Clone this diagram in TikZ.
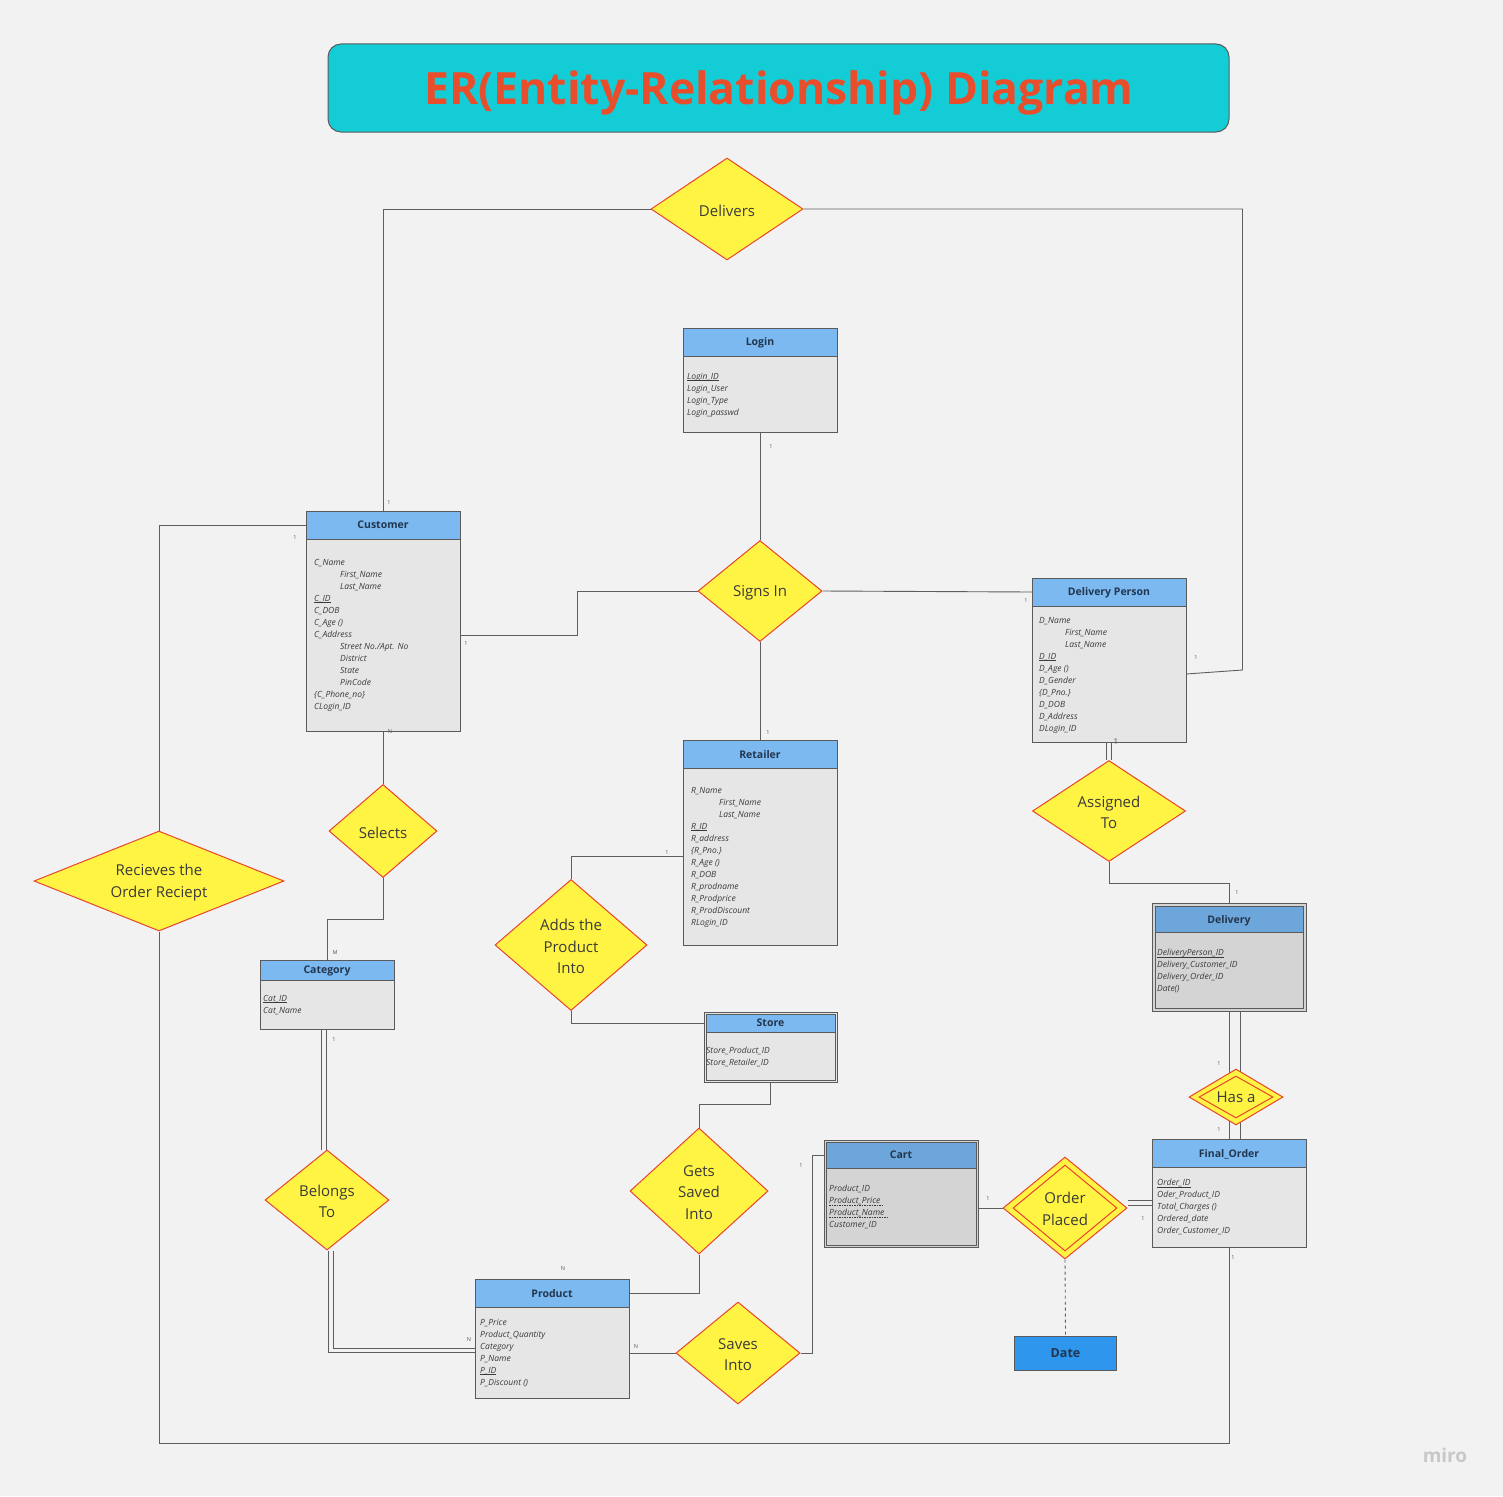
\documentclass[tikz,border=0pt]{standalone}
\usepackage{fontspec}
\setmainfont{Open Sans}
\usetikzlibrary{shapes.geometric}

\definecolor{bgc}{HTML}{F2F2F2}
\definecolor{titlefill}{HTML}{14CCD5}
\definecolor{titletext}{HTML}{E94E2C}
\definecolor{boxline}{HTML}{5A5A5A}
\definecolor{headc}{HTML}{7BB9F0}
\definecolor{headdark}{HTML}{6CA6DA}
\definecolor{bodyc}{HTML}{E6E6E6}
\definecolor{bodydark}{HTML}{D4D4D4}
\definecolor{headtext}{HTML}{22364F}
\definecolor{attrtext}{HTML}{3A3A3A}
\definecolor{relfill}{HTML}{FFF444}
\definecolor{relline}{HTML}{E8452C}
\definecolor{reltextc}{HTML}{3A3A3A}
\definecolor{cardc}{HTML}{555555}
\definecolor{linec}{HTML}{5E5E5E}
\definecolor{datefill}{HTML}{2F96EE}
\definecolor{miroc}{HTML}{C8C8C8}

\pgfdeclarelayer{bg}
\pgfdeclarelayer{lines}
\pgfsetlayers{bg,lines,main}

% key attribute: a thin rule just under the baseline
\newcommand\keyul[1]{\setbox0\hbox{#1}\rlap{\rule[-1.4pt]{\wd0}{0.45pt}}\box0}

% entity: name, x, y, width, height, header height, title
\newcommand\erentity[7]{%
  \node[entbody, minimum width=#4pt, minimum height=#5pt, anchor=north west] (#1) at (#2,#3) {};
  \node[enthead, minimum width=#4pt, minimum height=#6pt, anchor=north west] (#1-h) at (#2,#3) {#7};
}
% relationship: name, x, y, width, height, text
\newcommand\errel[6]{%
  \node[relshape, minimum width=#4pt, minimum height=#5pt] (#1) at (#2,#3) {};
  \node[reltext] (#1-t) at ([yshift=-1.5pt]#1.center) {#6};
}

\begin{document}
\begin{tikzpicture}[x=1pt,y=-1pt,
  entbody/.style={draw=boxline, line width=1pt, fill=bodyc, inner sep=0pt, outer sep=0pt},
  enthead/.style={draw=boxline, line width=1pt, fill=headc, inner sep=0pt, outer sep=0pt,
    font=\fontsize{10.5}{12}\selectfont\bfseries, text=headtext, text depth=0pt},
  attr/.style={inner sep=0pt, anchor=north west, align=left,
    font=\fontsize{8.5}{12}\selectfont\itshape, text=attrtext},
  relshape/.style={diamond, draw=relline, line width=1pt, fill=relfill, inner sep=0pt},
  reltext/.style={align=center, inner sep=0pt, font=\fontsize{15}{21.5}\selectfont, text=reltextc},
  card/.style={inner sep=0pt, font=\fontsize{5.5}{6}\selectfont, text=cardc},
  conn/.style={draw=linec, line width=0.9pt},
  dbl/.style={draw=linec, line width=0.9pt, double=bgc, double distance=3.5pt}]

\useasboundingbox (0,0) rectangle (1503,1496);
\begin{pgfonlayer}{bg}
  \fill[bgc] (0,0) rectangle (1503,1496);
\end{pgfonlayer}

% title
\node[draw=boxline, line width=1pt, fill=titlefill, rounded corners=13pt,
  minimum width=901pt, minimum height=88pt, inner sep=0pt] (title) at (778.5,88) {};
\node[inner sep=0pt, font=\fontsize{44.5}{50}\selectfont\bfseries, text=titletext]
  (title-t) at (779,93) {ER(Entity-Relationship) Diagram};

% ---------- entities ----------
\erentity{login}{683}{328}{154}{104}{28}{Login}
\node[attr] (login-a) at (687,373) {\keyul{Login\_ID}\\Login\_User\\Login\_Type\\Login\_passwd};

\erentity{cust}{306}{511}{154}{220}{28}{Customer}
\node[attr] (cust-a) at (314,559) {C\_Name\\\hspace*{26pt}First\_Name\\\hspace*{26pt}Last\_Name\\
  \keyul{C\_ID}\\C\_DOB\\C\_Age ()\\C\_Address\\\hspace*{26pt}Street No./Apt. No\\
  \hspace*{26pt}District\\\hspace*{26pt}State\\\hspace*{26pt}PinCode\\\{C\_Phone\_no\}\\CLogin\_ID};

\erentity{dperson}{1032}{578}{154}{164}{28}{Delivery Person}
\node[attr] (dperson-a) at (1039,617) {D\_Name\\\hspace*{26pt}First\_Name\\\hspace*{26pt}Last\_Name\\
  \keyul{D\_ID}\\D\_Age ()\\D\_Gender\\\{D\_Pno.\}\\D\_DOB\\D\_Address\\DLogin\_ID};

\erentity{retail}{683}{740}{154}{205}{28}{Retailer}
\node[attr] (retail-a) at (691,787) {R\_Name\\\hspace*{28pt}First\_Name\\\hspace*{28pt}Last\_Name\\
  \keyul{R\_ID}\\R\_address\\\{R\_Pno.\}\\R\_Age ()\\R\_DOB\\R\_prodname\\R\_Prodprice\\
  R\_ProdDiscount\\RLogin\_ID};

\erentity{cat}{260}{960}{134}{69}{20}{Category}
\node[attr] (cat-a) at (263,995) {\keyul{Cat\_ID}\\Cat\_Name};

\erentity{forder}{1152}{1139}{154}{108}{28}{Final\_Order}
\node[attr] (forder-a) at (1157,1179) {\keyul{Order\_ID}\\Oder\_Product\_ID\\Total\_Charges ()\\
  Ordered\_date\\Order\_Customer\_ID};

\erentity{prod}{475}{1279}{154}{119}{28}{Product}
\node[attr] (prod-a) at (480,1319) {P\_Price\\Product\_Quantity\\Category\\P\_Name\\\keyul{P\_ID}\\P\_Discount ()};

% entities with a double border
\node[entbody, minimum width=133pt, minimum height=70pt, anchor=north west] (store) at (704,1012) {};
\node[entbody, minimum width=129pt, minimum height=66pt, anchor=north west] (store-in) at (706,1014) {};
\node[enthead, minimum width=129pt, minimum height=18pt, anchor=north west] (store-h) at (706,1014) {Store};
\node[attr] (store-a) at (706,1047) {Store\_Product\_ID\\Store\_Retailer\_ID};

\node[entbody, fill=bodydark, minimum width=154pt, minimum height=108pt, anchor=north west] (deliv) at (1152,903) {};
\node[entbody, fill=bodydark, minimum width=148pt, minimum height=102pt, anchor=north west] (deliv-in) at (1155,906) {};
\node[enthead, fill=headdark, minimum width=148pt, minimum height=26pt, anchor=north west] (deliv-h) at (1155,906) {Delivery};
\node[attr] (deliv-a) at (1157,949) {\keyul{DeliveryPerson\_ID}\\Delivery\_Customer\_ID\\Delivery\_Order\_ID\\Date()};

\node[entbody, fill=bodydark, minimum width=154pt, minimum height=107pt, anchor=north west] (cart) at (824,1140) {};
\node[entbody, fill=bodydark, minimum width=150pt, minimum height=103pt, anchor=north west] (cart-in) at (826,1142) {};
\node[enthead, fill=headdark, minimum width=150pt, minimum height=26pt, anchor=north west] (cart-h) at (826,1142) {Cart};
\node[attr] (cart-a) at (829,1185) {Product\_ID\\Product\_Price\\Product\_Name\\Customer\_ID};
% dashed underlines of the partial keys
\draw[attrtext, line width=0.5pt, dash pattern=on 1.5pt off 1pt]
  ([yshift=-20pt]cart-a.north west) -- ++(54,0)
  ([yshift=-32pt]cart-a.north west) -- ++(58,0);

\node[draw=boxline, line width=1pt, fill=datefill, minimum width=102pt, minimum height=34pt, inner sep=0pt,
  anchor=north west, font=\fontsize{12.5}{14}\selectfont\bfseries, text=headtext, text depth=0pt] (date) at (1014,1336) {Date};

% ---------- relationships ----------
\errel{delivers}{727}{209}{152}{102}{Delivers}
\errel{signs}{760}{591}{124}{101}{Signs In}
\errel{selects}{383}{831}{108}{93}{Selects}
\errel{recv}{159}{881}{250}{100}{Recieves the\\Order Reciept}
\errel{assigned}{1109}{811}{153}{101}{Assigned\\To}
\errel{adds}{571}{945}{152}{131}{Adds the\\Product\\Into}
\errel{belongs}{327}{1200}{124}{100}{Belongs\\To}
\errel{gets}{699}{1191}{138}{126}{Gets\\Saved\\Into}
\errel{saves}{738}{1353}{124}{102}{Saves\\Into}

% double-bordered relationships
\node[relshape, minimum width=94pt, minimum height=56pt] (hasa) at (1236,1097) {};
\node[relshape, minimum width=74pt, minimum height=42pt] (hasa-in) at (1236,1097) {};
\node[reltext] (hasa-t) at (1236,1097) {Has a};
\node[relshape, minimum width=124pt, minimum height=102pt] (placed) at (1065,1208) {};
\node[relshape, minimum width=104pt, minimum height=86pt] (placed-in) at (1065,1208) {};
\node[reltext] (placed-t) at (1065,1209) {Order\\Placed};

% ---------- connectors ----------
\begin{pgfonlayer}{lines}
  \draw[conn] (delivers.west) -| (cust.north);
  \draw[conn] (delivers.east) -- ++(439,0) -- ++(0,461) -- ([yshift=-14pt]dperson.east);
  \draw[conn] (login.south) -- (signs.north);
  \draw[conn] (signs.west) -- ++(-120,0) |- ([yshift=-14pt]cust.east);
  \draw[conn] (signs.east) -- (dperson-h.west);
  \draw[conn] (signs.south) -- (retail.north);
  \draw[conn] (cust.south) -- (selects.north);
  \draw[conn] (selects.south) -- ++(0,41) -| (cat.north);
  \draw[conn] (cust-h.west) -| (recv.north);
  \draw[conn] (recv.south) -- ++(0,512) -| (forder.south);
  \draw[dbl] (dperson.south) -- (assigned.north);
  \draw[conn] (assigned.south) -- ++(0,21) -| (deliv.north);
  \draw[conn] (deliv.south) -- (forder.north);
  \draw[conn] ([xshift=11pt]deliv.south) -- ([xshift=11pt]forder.north);
  \draw[conn] ([yshift=-14pt]retail.west) -| (adds.north);
  \draw[conn] (adds.south) |- (store-h.west);
  \draw[conn] (store.south) -- ++(0,22) -| (gets.north);
  \draw[conn] (gets.south) |- (prod-h.east);
  \draw[dbl] ([xshift=-3pt]cat.south) -- ([xshift=-3pt]cat.south |- belongs.north);
  \draw[dbl] ([xshift=4pt]belongs.south) |- ([yshift=-12pt]prod.west);
  \draw[conn] (saves.west) -- (saves.west -| prod.east);
  \draw[conn] (saves.east) -- ++(12,0) |- (cart-h.west);
  \draw[conn] (placed.west) -- (placed.west -| cart.east);
  \draw[dbl] ([yshift=5pt]placed.east) -- ([yshift=5pt]placed.east -| forder.west);
  \draw[conn, dashed] (placed.south) -- (date.north);
\end{pgfonlayer}

% ---------- cardinalities ----------
\node[card] (c1) at (389,503) {1};
\node[card] (c2) at (295,538) {1};
\node[card] (c3) at (466,644) {1};
\node[card] (c4) at (390,732) {N};
\node[card] (c5) at (335,953) {M};
\node[card] (c6) at (771,447) {1};
\node[card] (c7) at (1026,601) {1};
\node[card] (c8) at (768,733) {1};
\node[card] (c9) at (1196,658) {1};
\node[card, font=\fontsize{8}{9}\selectfont] (c10) at (1116,742) {1};
\node[card] (c11) at (1237,893) {1};
\node[card] (c12) at (667,853) {1};
\node[card] (c13) at (334,1040) {1};
\node[card] (c14) at (563,1269) {N};
\node[card] (c15) at (469,1340) {N};
\node[card] (c16) at (636,1347) {N};
\node[card] (c17) at (801,1166) {1};
\node[card] (c18) at (988,1199) {1};
\node[card] (c19) at (1143,1219) {1};
\node[card] (c20) at (1219,1064) {1};
\node[card] (c21) at (1219,1130) {1};
\node[card] (c22) at (1233,1258) {1};

\node[inner sep=0pt, font=\fontsize{19}{20}\selectfont\bfseries, text=miroc] (miro) at (1445,1455) {miro};
\end{tikzpicture}
\end{document}
